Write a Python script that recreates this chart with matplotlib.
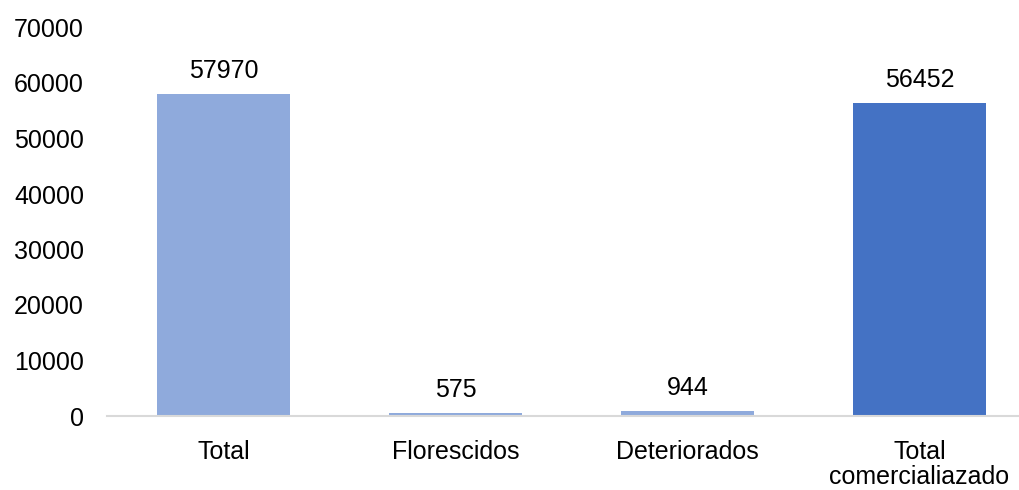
import matplotlib
matplotlib.use("Agg")
import matplotlib.pyplot as plt

# values
categories = ["Total", "Florescidos", "Deteriorados", "Total\ncomercialiazado"]
values = [57970, 575, 944, 56452]
bar_colors = ["#8FAADC", "#8FAADC", "#8FAADC", "#4472C4"]
y_ticks = [0, 10000, 20000, 30000, 40000, 50000, 60000, 70000]

plt.rcParams['font.family'] = ['Liberation Sans', 'DejaVu Sans']

fig = plt.figure(figsize=(10.2, 4.9), dpi=100)
# axes placed by hand so the frame lines up with the reference
ax = fig.add_axes([107.5 / 1020, (490 - 416) / 490, 928 / 1020, 388.5 / 490])

x = range(len(categories))
bars = ax.bar(x, values, width=0.575, color=bar_colors)

# value labels above each bar
for b, v in zip(bars, values):
    ax.annotate(str(v), (b.get_x() + b.get_width() / 2, b.get_height()),
                xytext=(0, 8), textcoords="offset points",
                ha="center", va="bottom", fontsize=18, color="#000000")

ax.set_xlim(-0.5, 3.5)
ax.set_ylim(0, 70000)
ax.set_yticks(y_ticks)
ax.set_yticklabels([str(t) for t in y_ticks])
ax.set_xticks(list(x))
ax.set_xticklabels(categories, linespacing=1.05)

for s in ["top", "right", "left"]:
    ax.spines[s].set_visible(False)
ax.spines["bottom"].set_color("#D9D9D9")
ax.spines["bottom"].set_linewidth(1.5)

ax.tick_params(axis="y", length=0, pad=17, labelsize=18, labelcolor="#000000")
ax.tick_params(axis="x", length=0, pad=17, labelsize=18, labelcolor="#000000")

fig.savefig("out.png", dpi=100)
